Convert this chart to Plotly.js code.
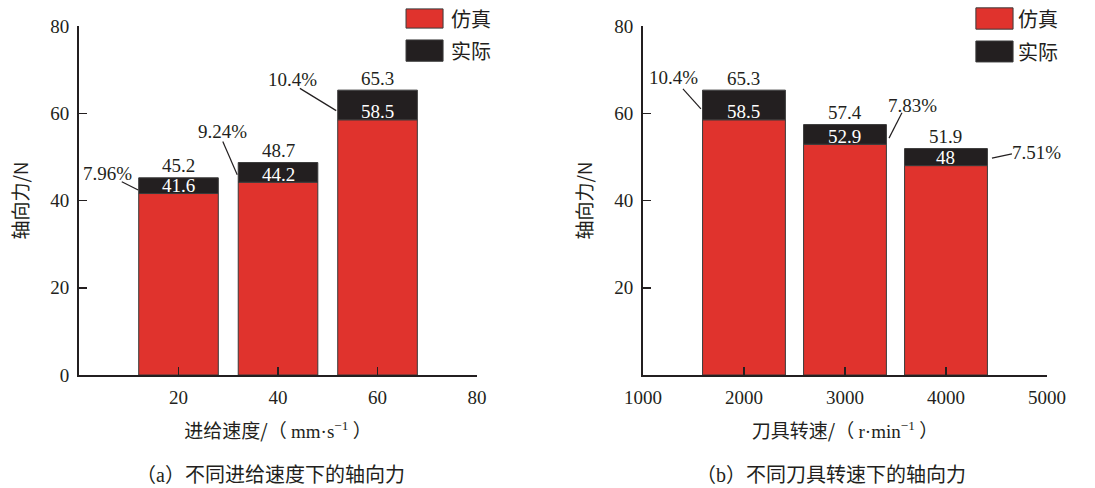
<!DOCTYPE html>
<html><head><meta charset="utf-8">
<script src="https://cdn.plot.ly/plotly-3.0.1.min.js"></script>
<style>html,body{margin:0;padding:0;background:#fff}</style>
</head><body><div id="chart" style="width:1095px;height:488px"></div>
<script>
// ---- data ----
const feedSpeed = [20, 40, 60];
const feedSim = [41.6, 44.2, 58.5];
const feedActual = [45.2, 48.7, 65.3];
const feedError = ['7.96%', '9.24%', '10.4%'];

const spindleSpeed = [2000, 3000, 4000];
const spindleSim = [58.5, 52.9, 48];
const spindleActual = [65.3, 57.4, 51.9];
const spindleError = ['10.4%', '7.83%', '7.51%'];

const leftXTicks = [20, 40, 60, 80];
const leftYTicks = [0, 20, 40, 60, 80];
const rightXTicks = [1000, 2000, 3000, 4000, 5000];
const rightYTicks = [20, 40, 60, 80];

const seriesNames = ['仿真', '实际'];

// ---- layout helpers (positions of callouts, in data units) ----
// [textX, textY, lineX0, lineY0, lineX1, lineY1]
const feedCallout = [
  [5.8, 46.3, 8.6, 44.3, 11.9, 42.4],
  [28.9, 55.8, 28.9, 53.5, 31.8, 45.9],
  [43.0, 67.8, 44.4, 65.7, 51.7, 60.6]
];
const spindleCallout = [
  [1307, 68.3, 1396, 65.6, 1574, 61.0],
  [3673, 61.7, 3564, 60.1, 3436, 54.3],
  [4901, 51.1, 4653, 50.7, 4455, 49.7]
];

const RED = '#E0332D';
const BLACK = '#231F20';
const EDGE = '#3a3a3a';
const FONT = 'Liberation Serif, "Noto Sans CJK SC", serif';
const CJK = '"Noto Sans CJK SC", "Liberation Serif", sans-serif';
const LAT = (s) => '<span style="font-family:Liberation Serif">' + s + '</span>';

function diff(a, b) { return a.map((v, i) => +(v - b[i]).toFixed(3)); }

const traces = [
  {type: 'bar', x: feedSpeed, y: feedSim, width: 16, xaxis: 'x', yaxis: 'y',
   marker: {color: RED, line: {color: EDGE, width: 1}}, name: seriesNames[0], hoverinfo: 'skip'},
  {type: 'bar', x: feedSpeed, y: diff(feedActual, feedSim), base: feedSim, width: 16, xaxis: 'x', yaxis: 'y',
   marker: {color: BLACK, line: {color: EDGE, width: 1}}, name: seriesNames[1], hoverinfo: 'skip'},
  {type: 'bar', x: spindleSpeed, y: spindleSim, width: 820, xaxis: 'x2', yaxis: 'y2',
   marker: {color: RED, line: {color: EDGE, width: 1}}, name: seriesNames[0], hoverinfo: 'skip'},
  {type: 'bar', x: spindleSpeed, y: diff(spindleActual, spindleSim), base: spindleSim, width: 820, xaxis: 'x2', yaxis: 'y2',
   marker: {color: BLACK, line: {color: EDGE, width: 1}}, name: seriesNames[1], hoverinfo: 'skip'}
];

const annotations = [];
const shapes = [];

function addBarLabels(xs, sims, acts, errs, callouts, xr, yr) {
  xs.forEach((x, i) => {
    annotations.push({x: x, y: acts[i], xref: xr, yref: yr, text: String(acts[i]), showarrow: false,
      yanchor: 'middle', yshift: 12, font: {family: FONT, size: 19, color: BLACK}});
    annotations.push({x: x, y: sims[i], xref: xr, yref: yr, text: String(sims[i]), showarrow: false,
      yanchor: 'middle', yshift: 8, font: {family: FONT, size: 19, color: '#ffffff'}});
    const c = callouts[i];
    annotations.push({x: c[0], y: c[1], xref: xr, yref: yr, text: errs[i], showarrow: false,
      yanchor: 'middle', xanchor: 'center', font: {family: FONT, size: 19, color: BLACK}});
    shapes.push({type: 'line', xref: xr, yref: yr, x0: c[2], y0: c[3], x1: c[4], y1: c[5],
      line: {color: BLACK, width: 1.2}});
  });
}
addBarLabels(feedSpeed, feedSim, feedActual, feedError, feedCallout, 'x', 'y');
addBarLabels(spindleSpeed, spindleSim, spindleActual, spindleError, spindleCallout, 'x2', 'y2');

// custom legends (large swatches)
function addLegend(xr, yr, bx0, bx1, tx, rows) {
  rows.forEach((r, i) => {
    shapes.push({type: 'rect', xref: xr, yref: yr, x0: bx0, x1: bx1, y0: r[0], y1: r[1],
      fillcolor: i === 0 ? RED : BLACK, line: {color: EDGE, width: 1}});
    annotations.push({x: tx, y: (r[0] + r[1]) / 2, xref: xr, yref: yr, text: seriesNames[i], showarrow: false,
      xanchor: 'left', yanchor: 'middle', font: {family: CJK, size: 20, color: BLACK}});
  });
}
addLegend('x domain', 'y domain', 0.8216, 0.9146, 0.930, [[0.994, 1.049], [0.899, 0.960]]);
addLegend('x2 domain', 'y2 domain', 0.824, 0.916, 0.923, [[0.991, 1.052], [0.897, 0.957]]);

// captions
annotations.push({x: 0.48, y: -0.283, xref: 'x domain', yref: 'y domain', text: '（' + LAT('a') + '）不同进给速度下的轴向力',
  showarrow: false, yanchor: 'middle', font: {family: CJK, size: 20, color: BLACK}});
annotations.push({x: 0.465, y: -0.283, xref: 'x2 domain', yref: 'y2 domain', text: '（' + LAT('b') + '）不同刀具转速下的轴向力',
  showarrow: false, yanchor: 'middle', font: {family: CJK, size: 20, color: BLACK}});

function axisBase() {
  return {showline: true, linewidth: 2, linecolor: BLACK, showgrid: false, zeroline: false,
    ticks: 'inside', ticklen: 8, tickwidth: 1.5, tickcolor: BLACK, tickmode: 'array',
    tickfont: {family: FONT, size: 19, color: BLACK}, fixedrange: true};
}

const layout = {
  width: 1095, height: 488,
  margin: {l: 79, r: 48, t: 26, b: 113},
  paper_bgcolor: '#fff', plot_bgcolor: '#fff',
  showlegend: false, barmode: 'overlay',
  xaxis: Object.assign(axisBase(), {domain: [0, 0.4112], range: [0, 80], tickvals: leftXTicks, anchor: 'y',
    ticklabelstandoff: 4,
    title: {text: '进给速度/（ ' + LAT('mm·s<sup>−1</sup>') + ' ）', font: {family: CJK, size: 19, color: BLACK}, standoff: 18}}),
  yaxis: Object.assign(axisBase(), {domain: [0, 1], range: [0, 80], tickvals: leftYTicks, anchor: 'x',
    ticklabelstandoff: 4,
    title: {text: '轴向力/N', font: {family: CJK, size: 19, color: BLACK}, standoff: 17}}),
  xaxis2: Object.assign(axisBase(), {domain: [0.5826, 1], range: [1000, 5000], tickvals: rightXTicks, anchor: 'y2',
    ticklabelstandoff: 4,
    title: {text: '刀具转速/（ ' + LAT('r·min<sup>−1</sup>') + ' ）', font: {family: CJK, size: 19, color: BLACK}, standoff: 18}}),
  yaxis2: Object.assign(axisBase(), {domain: [0, 1], range: [0, 80], tickvals: rightYTicks, anchor: 'x2',
    ticklabelstandoff: 4,
    title: {text: '轴向力/N', font: {family: CJK, size: 19, color: BLACK}, standoff: 17}}),
  annotations: annotations,
  shapes: shapes
};

Plotly.newPlot('chart', traces, layout, {displayModeBar: false, staticPlot: true});
</script></body></html>
